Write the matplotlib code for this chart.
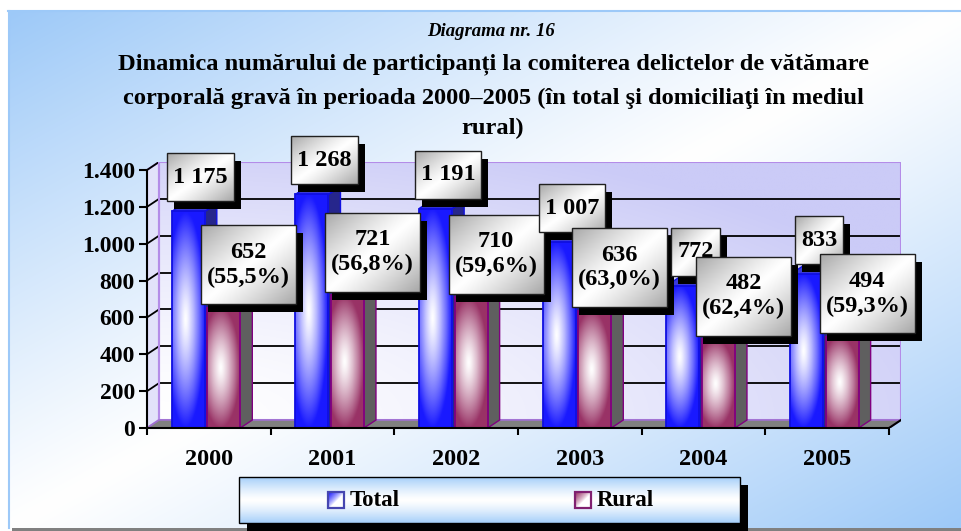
import numpy as np
import matplotlib
matplotlib.use("Agg")
import matplotlib.pyplot as plt
from matplotlib.colors import to_rgb
from matplotlib.patches import Rectangle, Polygon

plt.rcParams['font.family'] = ['Liberation Serif', 'DejaVu Serif']
plt.rcParams['font.weight'] = 'bold'

# data
years = ['2000', '2001', '2002', '2003', '2004', '2005']
total = [1175, 1268, 1191, 1007, 772, 833]
rural = [652, 721, 710, 636, 482, 494]
rural_pct = ['55,5%', '56,8%', '59,6%', '63,0%', '62,4%', '59,3%']
yticks = [0, 200, 400, 600, 800, 1000, 1200, 1400]
ytick_labels = ['0', '200', '400', '600', '800', '1.000', '1.200', '1.400']
legend_names = ['Total', 'Rural']

W, H = 961, 531
fig = plt.figure(figsize=(W / 100, H / 100), dpi=100)

BLUE = np.array(to_rgb('#1a1aff'))
MAROON = np.array(to_rgb('#993366'))
SKY = np.array(to_rgb('#9dc9f8'))
LAV = np.array(to_rgb('#cbcbf7'))


def mix(color, s):
    # white where s=0, colour where s=1
    return 1 - s[..., None] * (1 - color)


# ---------- background, title, legend ----------
bg = fig.add_axes([0, 0, 1, 1], zorder=0)
bg.set_xlim(0, W)
bg.set_ylim(0, H)
bg.set_autoscale_on(False)
bg.axis('off')

U, V = np.meshgrid(np.linspace(0, 1, 300), np.linspace(0, 1, 200))
s = np.abs((U + V) / 2 - 0.5) * 2
bg.imshow(mix(SKY, s ** 1.1), extent=(8, W, 3, 520), origin='upper',
          aspect='auto', interpolation='bilinear', zorder=0)
bg.plot([8, W], [520, 520], color='#9dc9f8', lw=1.5, zorder=1)
bg.plot([8.5, 8.5], [3, 520], color='#9dc9f8', lw=1.5, zorder=1)
bg.add_patch(Rectangle((12, 0), W - 12, 3, fc='#808080', ec='none', zorder=1))

bg.text(491, 500, 'Diagrama nr. 16', ha='center', va='center', fontsize=13.5,
        style='italic', zorder=2)
title_lines = ['Dinamica numărului de participanți la comiterea delictelor de vătămare',
               'corporală gravă în perioada 2000–2005 (în total şi domiciliaţi în mediul',
               'rural)']
title_y = [467, 433, 403]
for line, ty in zip(title_lines, title_y):
    bg.text(493, ty, line, ha='center', va='center', fontsize=17.6, zorder=2)

# legend box
bg.add_patch(Rectangle((247, 0), 501, 46, fc='black', ec='none', zorder=3))
lu = np.linspace(0, 1, 60)
ls_ = np.abs(lu - 0.5) * 2
leg_arr = mix(np.array(to_rgb('#a6cff9')), np.tile(ls_[:, None], (1, 10)) ** 1.3)
bg.imshow(leg_arr, extent=(239, 740, 8, 54), origin='upper', aspect='auto',
          interpolation='bilinear', zorder=4)
bg.add_patch(Rectangle((239, 8), 501, 46, fc='none', ec='black', lw=1, zorder=5))
mu, mv = np.meshgrid(np.linspace(0, 1, 16), np.linspace(0, 1, 16))
ms = np.clip(1 - (mu + mv) / 1.1, 0, 1) ** 0.8
for name, col, edge, mx in [(legend_names[0], BLUE, '#4646b0', 328),
                            (legend_names[1], MAROON, '#802070', 575)]:
    bg.imshow(mix(col, ms), extent=(mx, mx + 16, 23, 39), origin='upper',
              aspect='auto', interpolation='bilinear', zorder=6)
    bg.add_patch(Rectangle((mx, 23), 16, 16, fc='none', ec=edge, lw=1.6, zorder=7))
    bg.text(mx + 22, 31, name, ha='left', va='center', fontsize=16.5, zorder=7)

# ---------- main axes ----------
px_cat = 742 / 6
dxd = 12 / px_cat
dyd = 8 * 1400 / 258
ax = fig.add_axes([147 / W, 103 / H, 754 / W, 266 / H], zorder=1)
ax.set_xlim(-0.5, 5.5 + dxd)
ax.set_ylim(0, 1400 + dyd)
ax.set_autoscale_on(False)
ax.patch.set_visible(False)
for side in ['top', 'right']:
    ax.spines[side].set_visible(False)
ax.spines['left'].set_bounds(0, 1400)
ax.spines['bottom'].set_bounds(-0.5, 5.5)
for side in ['left', 'bottom']:
    ax.spines[side].set_linewidth(1.5)
    ax.spines[side].set_zorder(8)

ax.set_yticks(yticks, ytick_labels)
ax.set_xticks(range(len(years)), years)
ax.set_xticks(np.arange(-0.5, 6, 1), minor=True)
ax.tick_params(axis='x', which='major', length=0, pad=15, labelsize=17.5)
ax.tick_params(axis='x', which='minor', length=5, width=1.5, direction='out')
ax.tick_params(axis='y', length=5.8, width=1.5, pad=3, labelsize=17)

# back wall
wu, wv = np.meshgrid(np.linspace(0, 1, 200), np.linspace(1, 0, 120))
ws = np.clip(np.sqrt(wu ** 2 + wv ** 2) / 1.15, 0, 1) ** 1.4
ax.imshow(mix(LAV, ws), extent=(-0.5 + dxd, 5.5 + dxd, dyd, 1400 + dyd),
          origin='upper', aspect='auto', interpolation='bilinear', zorder=0.5)
ax.add_patch(Rectangle((-0.5 + dxd, dyd), 6, 1400, fc='none', ec='#b48ce8',
                       lw=1.5, zorder=1.5))
# left wall
ax.add_patch(Polygon([(-0.5, 0), (-0.5 + dxd, dyd), (-0.5 + dxd, 1400 + dyd), (-0.5, 1400)],
                     closed=True, fc='#e2e2fa', ec='#b48ce8', lw=1.5, zorder=1))
for y in yticks[1:-1]:
    ax.plot([-0.5 + dxd, 5.5 + dxd], [y + dyd, y + dyd], color='black', lw=1.3, zorder=1.2)
for y in yticks[1:]:
    ax.plot([-0.5, -0.5 + dxd], [y, y + dyd], color='black', lw=1.3, zorder=1.2)
# floor
ax.add_patch(Polygon([(-0.5, 0), (5.5, 0), (5.5 + dxd, dyd), (-0.5 + dxd, dyd)],
                     closed=True, fc='#808080', ec='#a070d0', lw=1.2, zorder=1.6))
ax.plot([5.5, 5.5 + dxd], [0, dyd], color='black', lw=1.5, zorder=8)


def face_grad(color):
    fu, fv = np.meshgrid(np.linspace(-1, 1, 40), np.linspace(-1, 1, 120))
    fs = np.clip(np.sqrt(0.75 * (fu + 0.2) ** 2 + fv ** 2), 0, 1) ** 1.3
    return mix(color, fs)


bw = 0.267
x_total = np.arange(len(years)) - 0.166
x_rural = np.arange(len(years)) + 0.121


def draw_series(xs, vals, color, edge, side_col, top_col, z):
    bars = ax.bar(xs, vals, bw, fc='none', ec=edge, lw=1.3, zorder=z + 1)
    grad = face_grad(color)
    for xc, v, rect in zip(xs, vals, bars):
        xr = xc + bw / 2
        xl = xc - bw / 2
        ax.add_patch(Polygon([(xr, 0), (xr + dxd, dyd), (xr + dxd, v + dyd), (xr, v)],
                             closed=True, fc=side_col, ec=edge, lw=1, zorder=z - 0.5))
        ax.add_patch(Polygon([(xl, v), (xr, v), (xr + dxd, v + dyd), (xl + dxd, v + dyd)],
                             closed=True, fc=top_col, ec=edge, lw=1, zorder=z - 0.5))
        im = ax.imshow(grad, extent=(xl, xr, 0, v), origin='upper', aspect='auto',
                       interpolation='bilinear', zorder=z)
        im.set_clip_path(rect)


draw_series(x_total, total, BLUE, '#1010e0', '#26268c', '#3a3ad8', 3)
draw_series(x_rural, rural, MAROON, '#800080', '#5f5f5f', '#b07090', 5)

# ---------- data labels ----------
ov = fig.add_axes([0, 0, 1, 1], zorder=2)
ov.set_xlim(0, W)
ov.set_ylim(0, H)
ov.set_autoscale_on(False)
ov.axis('off')
renderer = fig.canvas.get_renderer()

gu, gv = np.meshgrid(np.linspace(0, 1, 60), np.linspace(0, 1, 60))
gs = np.abs((gu + gv) / 2 - 0.5) * 2
box_grad = mix(np.array(to_rgb('#a8a8a8')), gs ** 1.2)


def label_box(cx, cy, txt, h, z):
    t = ov.text(cx, cy, txt, ha='center', va='center', fontsize=17.5, zorder=z + 3,
                linespacing=1.2)
    tw = t.get_window_extent(renderer=renderer).width
    w = tw + 12
    x0, y0 = cx - w / 2, cy - h / 2
    ov.add_patch(Rectangle((x0 + 7, y0 - 8), w, h, fc='black', ec='none', zorder=z))
    ov.imshow(box_grad, extent=(x0, x0 + w, y0, y0 + h), origin='upper', aspect='auto',
              interpolation='bilinear', zorder=z + 1)
    ov.add_patch(Rectangle((x0, y0), w, h, fc='none', ec='#202020', lw=1, zorder=z + 2))


for i in range(len(years)):
    px, py = ax.transData.transform((x_total[i], total[i]))
    label_box(px + 12.5, py + 34, f"{total[i]:,}".replace(',', ' '), 48, 10 + 10 * i)
    px, py = ax.transData.transform((x_rural[i], rural[i]))
    label_box(px + 25, py + 43, f"{rural[i]}\n({rural_pct[i]})", 79, 15 + 10 * i)

fig.savefig('out.png', dpi=100)
